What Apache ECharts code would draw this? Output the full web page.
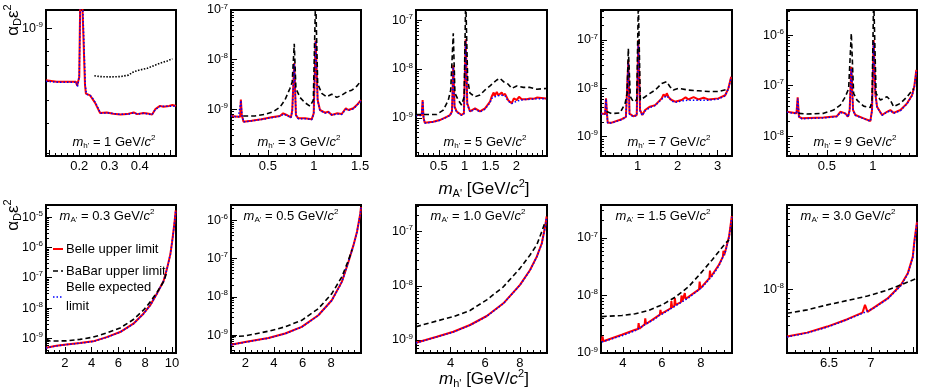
<!DOCTYPE html>
<html lang="en" style="background: #FFFFFF;height: 100%">
<head>
  <meta charset="utf-8" />
  <title>Dark Higgsstrahlung limits</title>
  <script src="https://cdn.jsdelivr.net/npm/echarts@6/dist/echarts.min.js"></script>
</head>
<body style="margin: 0;height: 100%">
<div id="chart" style="width: 926px;height: 392px"></div>
<script>
// panel labels
const mhValues = ['1', '3', '5', '7', '9'];
const maValues = ['0.3', '0.5', '1.0', '1.5', '3.0'];
const xTickLabels = [
  ['0.2', '0.3', '0.4'], ['0.5', '1', '1.5'], ['0.5', '1', '1.5', '2'], ['1', '2', '3'], ['0.5', '1'],
  ['2', '4', '6', '8', '10'], ['2', '4', '6', '8'], ['4', '6', '8'], ['4', '6', '8'], ['6.5', '7']
];
const xRanges = [[0.09, 0.52], [0.1, 1.51], [0.06, 2.59], [0.0875, 3.36], [0.067, 1.48],
  [0.6, 10.3], [1.0, 10.08], [2.0, 9.57], [2.88, 9.6], [6.0, 7.55]];
const yRanges = [[2.93e-10, 1.19e-9], [1.15e-10, 1e-7], [1.65e-10, 1.62e-7], [3.98e-10, 4.18e-7], [4.06e-9, 3.16e-6],
  [3.3e-10, 2.5e-5], [3.4e-10, 2.5e-6], [5.75e-10, 3.1e-7], [1e-9, 3.75e-7], [1.96e-9, 8.6e-8]];

// top row: vs m_A' at fixed m_h'
const belle1 = [[0.09,6.06e-10],[0.125,5.97e-10],[0.189,5.97e-10],[0.193,5.75e-10],[0.2,6.26e-10],[0.205,2.0e-9],[0.211,2.0e-9],[0.219,5.8e-10],[0.222,5.33e-10],[0.236,5.24e-10],[0.252,4.89e-10],[0.269,4.43e-10],[0.291,4.45e-10],[0.313,4.4e-10],[0.336,4.36e-10],[0.358,4.38e-10],[0.38,4.45e-10],[0.391,4.38e-10],[0.413,4.43e-10],[0.43,4.4e-10],[0.441,4.36e-10],[0.452,4.6e-10],[0.467,4.74e-10],[0.478,4.7e-10],[0.497,4.74e-10],[0.508,4.78e-10],[0.52,4.74e-10]];
const expected1 = [[0.09,6.0e-10],[0.13,5.95e-10],[0.19,5.95e-10],[0.194,5.7e-10],[0.2,6.3e-10],[0.206,2.0e-9],[0.212,2.0e-9],[0.22,5.75e-10],[0.224,5.3e-10],[0.24,5.2e-10],[0.255,4.85e-10],[0.27,4.42e-10],[0.3,4.43e-10],[0.33,4.37e-10],[0.36,4.37e-10],[0.38,4.43e-10],[0.395,4.38e-10],[0.415,4.42e-10],[0.44,4.35e-10],[0.452,4.58e-10],[0.468,4.72e-10],[0.49,4.72e-10],[0.52,4.73e-10]];
const babar1 = [[0.25,6.33e-10],[0.269,6.28e-10],[0.302,6.26e-10],[0.336,6.28e-10],[0.363,6.37e-10],[0.38,6.58e-10],[0.402,6.7e-10],[0.425,6.8e-10],[0.447,6.98e-10],[0.469,7.15e-10],[0.491,7.3e-10],[0.508,7.45e-10]];

const belle2 = [[0.1,7.35e-10],[0.177,7.1e-10],[0.199,7.1e-10],[0.207,1.58e-9],[0.217,7.7e-10],[0.236,5.65e-10],[0.323,5.9e-10],[0.431,6.3e-10],[0.54,6.9e-10],[0.63,7.35e-10],[0.666,8.3e-10],[0.703,7.7e-10],[0.75,6.9e-10],[0.764,9.5e-10],[0.786,8.55e-9],[0.804,7.7e-10],[0.829,6.6e-10],[0.902,6.6e-10],[0.975,6.3e-10],[0.997,8.3e-10],[1.018,2.43e-8],[1.04,1.54e-9],[1.065,9.7e-10],[1.12,8.55e-10],[1.155,8.95e-10],[1.192,7.7e-10],[1.247,8.3e-10],[1.301,8.05e-10],[1.345,1.05e-9],[1.373,9.7e-10],[1.427,1.05e-9],[1.464,1.22e-9],[1.51,1.54e-9]];
const expected2 = [[0.1,7.3e-10],[0.18,7.05e-10],[0.2,7.1e-10],[0.208,1.5e-9],[0.218,7.6e-10],[0.237,5.6e-10],[0.33,5.85e-10],[0.43,6.25e-10],[0.54,6.8e-10],[0.63,7.25e-10],[0.67,8.0e-10],[0.705,7.6e-10],[0.75,6.8e-10],[0.765,9.3e-10],[0.786,8.2e-9],[0.805,7.6e-10],[0.83,6.5e-10],[0.9,6.5e-10],[0.975,6.2e-10],[0.998,8.1e-10],[1.018,2.35e-8],[1.04,1.5e-9],[1.065,9.5e-10],[1.12,8.4e-10],[1.16,8.7e-10],[1.2,7.6e-10],[1.25,8.1e-10],[1.3,7.9e-10],[1.345,1.0e-9],[1.375,9.5e-10],[1.43,1.03e-9],[1.465,1.2e-9],[1.51,1.5e-9]];
const babar2 = [[0.232,7.35e-10],[0.359,7.35e-10],[0.467,7.9e-10],[0.558,8.95e-10],[0.63,1.1e-9],[0.685,1.54e-9],[0.739,2.63e-9],[0.764,3.56e-9],[0.786,2.09e-8],[0.804,2.63e-9],[0.848,1.74e-9],[0.902,1.36e-9],[0.957,1.16e-9],[0.993,1.54e-9],[1.018,2e-7],[1.04,3.3e-9],[1.084,2.09e-9],[1.138,1.79e-9],[1.192,2.02e-9],[1.247,1.74e-9],[1.301,1.93e-9],[1.355,2.25e-9],[1.41,2.43e-9],[1.464,2.92e-9],[1.5,3.56e-9]];

const belle3 = [[0.06,1.14e-9],[0.17,1.14e-9],[0.188,2.3e-9],[0.205,1.0e-9],[0.23,7.9e-10],[0.393,8.3e-10],[0.52,9.0e-10],[0.652,1.05e-9],[0.716,1.14e-9],[0.755,1.35e-9],[0.78,1.2e-8],[0.805,1.69e-9],[0.845,1.35e-9],[0.94,1.14e-9],[0.985,1.24e-9],[1.02,4.06e-8],[1.05,1.98e-9],[1.103,1.35e-9],[1.2,1.56e-9],[1.296,1.35e-9],[1.393,1.56e-9],[1.49,2.15e-9],[1.52,2.7e-9],[1.56,3.3e-9],[1.58,2.8e-9],[1.62,3.4e-9],[1.65,2.9e-9],[1.716,3.3e-9],[1.74,2.9e-9],[1.78,3.1e-9],[1.84,2.3e-9],[1.909,1.98e-9],[1.95,2.5e-9],[2.006,2.3e-9],[2.05,2.7e-9],[2.1,2.4e-9],[2.134,2.5e-9],[2.2,2.4e-9],[2.263,2.5e-9],[2.33,2.45e-9],[2.393,2.6e-9],[2.573,2.5e-9]];
const expected3 = [[0.06,1.12e-9],[0.17,1.12e-9],[0.19,2.2e-9],[0.207,1.0e-9],[0.232,7.8e-10],[0.4,8.2e-10],[0.52,8.9e-10],[0.65,1.03e-9],[0.716,1.12e-9],[0.755,1.3e-9],[0.78,1.1e-8],[0.805,1.6e-9],[0.85,1.3e-9],[0.94,1.12e-9],[0.985,1.2e-9],[1.02,3.8e-8],[1.05,1.9e-9],[1.103,1.32e-9],[1.2,1.5e-9],[1.296,1.32e-9],[1.393,1.5e-9],[1.49,2.05e-9],[1.52,2.5e-9],[1.62,2.8e-9],[1.716,2.9e-9],[1.78,2.8e-9],[1.84,2.2e-9],[1.909,1.95e-9],[2.006,2.2e-9],[2.134,2.35e-9],[2.263,2.4e-9],[2.393,2.45e-9],[2.573,2.45e-9]];
const babar3 = [[0.06,1.17e-9],[0.17,1.17e-9],[0.46,1.17e-9],[0.587,1.44e-9],[0.684,2.3e-9],[0.73,3.7e-9],[0.78,5.4e-8],[0.812,3.2e-9],[0.876,2.3e-9],[0.94,1.83e-9],[0.99,2.7e-9],[1.02,3e-7],[1.058,5.96e-9],[1.103,3.2e-9],[1.2,2.7e-9],[1.296,2.95e-9],[1.393,3.72e-9],[1.49,4.5e-9],[1.62,5.96e-9],[1.68,6.46e-9],[1.75,5.5e-9],[1.84,4.9e-9],[1.909,4.0e-9],[2.006,4.5e-9],[2.134,4.2e-9],[2.263,4.2e-9],[2.393,3.85e-9],[2.573,4.0e-9]];

const belle4 = [[0.0875,3.0e-9],[0.19,2.95e-9],[0.213,6.2e-9],[0.24,2.8e-9],[0.255,1.95e-9],[0.355,1.95e-9],[0.605,2.3e-9],[0.71,2.58e-9],[0.74,2.8e-9],[0.77,3.7e-8],[0.8,3.0e-9],[0.895,2.65e-9],[0.98,2.8e-9],[1.02,1.0e-7],[1.063,3.56e-9],[1.12,2.8e-9],[1.19,3.56e-9],[1.31,4.17e-9],[1.44,4.5e-9],[1.605,6.2e-9],[1.65,7.5e-9],[1.7,6.8e-9],[1.73,7.9e-9],[1.78,6.5e-9],[1.85,5.73e-9],[1.94,5.3e-9],[2.1,5.73e-9],[2.2,6.5e-9],[2.27,5.9e-9],[2.4,6.6e-9],[2.52,5.9e-9],[2.65,6.4e-9],[2.77,5.9e-9],[3.02,6.2e-9],[3.19,7.2e-9],[3.27,1.0e-8],[3.34,1.74e-8]];
const expected4 = [[0.0875,2.95e-9],[0.19,2.9e-9],[0.213,6.0e-9],[0.24,2.75e-9],[0.255,1.92e-9],[0.355,1.92e-9],[0.605,2.25e-9],[0.71,2.5e-9],[0.74,2.7e-9],[0.77,3.4e-8],[0.8,2.9e-9],[0.895,2.6e-9],[0.98,2.75e-9],[1.02,9e-8],[1.063,3.4e-9],[1.12,2.75e-9],[1.19,3.4e-9],[1.31,4.0e-9],[1.44,4.4e-9],[1.605,6.0e-9],[1.73,7.0e-9],[1.85,5.5e-9],[1.94,5.1e-9],[2.1,5.5e-9],[2.27,5.7e-9],[2.52,5.7e-9],[2.77,5.7e-9],[3.02,6.0e-9],[3.19,7.0e-9],[3.27,9.8e-9],[3.34,1.7e-8]];
const babar4 = [[0.23,3.3e-9],[0.355,3.0e-9],[0.564,3.1e-9],[0.69,4.9e-9],[0.74,7.87e-9],[0.77,6.7e-8],[0.82,6.7e-9],[0.895,5.3e-9],[0.98,5.73e-9],[1.02,6e-7],[1.07,5.73e-9],[1.19,6.7e-9],[1.31,7.87e-9],[1.44,9.2e-9],[1.605,1.26e-8],[1.73,1.37e-8],[1.81,1.08e-8],[1.895,9.2e-9],[2.02,1.0e-8],[2.27,9.2e-9],[2.52,8.9e-9],[2.77,8.6e-9],[3.02,8.6e-9],[3.23,9.5e-9]];

const belle5 = [[0.067,3.05e-8],[0.17,2.84e-8],[0.183,5.9e-8],[0.197,2.43e-8],[0.23,2.26e-8],[0.465,2.35e-8],[0.61,2.5e-8],[0.647,3.05e-8],[0.701,2.84e-8],[0.73,2.43e-8],[0.748,3.3e-8],[0.766,2.38e-7],[0.785,3.3e-8],[0.81,2.63e-8],[0.9,2.26e-8],[0.973,2.0e-8],[0.991,3.3e-8],[1.009,8.0e-7],[1.027,7.0e-8],[1.046,3.84e-8],[1.1,2.63e-8],[1.154,3.05e-8],[1.19,3.3e-8],[1.226,2.9e-8],[1.3,3.3e-8],[1.372,4.48e-8],[1.426,6.5e-8],[1.45,9.5e-8],[1.473,2.05e-7]];
const expected5 = [[0.067,3.0e-8],[0.17,2.8e-8],[0.184,5.6e-8],[0.198,2.4e-8],[0.23,2.22e-8],[0.465,2.3e-8],[0.61,2.45e-8],[0.647,2.95e-8],[0.701,2.8e-8],[0.73,2.4e-8],[0.748,3.2e-8],[0.766,2.2e-7],[0.785,3.2e-8],[0.81,2.6e-8],[0.9,2.22e-8],[0.973,1.98e-8],[0.991,3.2e-8],[1.009,7.5e-7],[1.027,6.8e-8],[1.046,3.7e-8],[1.1,2.6e-8],[1.154,3.0e-8],[1.19,3.2e-8],[1.226,2.85e-8],[1.3,3.2e-8],[1.372,4.4e-8],[1.426,6.3e-8],[1.45,9.2e-8],[1.473,2.0e-7]];
const babar5 = [[0.193,2.84e-8],[0.284,2.75e-8],[0.465,2.84e-8],[0.574,3.3e-8],[0.647,4.15e-8],[0.701,6.05e-8],[0.737,8.8e-8],[0.766,1.09e-6],[0.791,7.06e-8],[0.828,5.2e-8],[0.9,3.95e-8],[0.973,3.7e-8],[0.991,5.2e-8],[1.009,6e-6],[1.035,7.0e-8],[1.082,5.2e-8],[1.154,6.05e-8],[1.19,5.2e-8],[1.226,3.84e-8],[1.3,4.48e-8],[1.372,6.05e-8],[1.444,8.8e-8]];

// bottom row: vs m_h' at fixed m_A'
const belle6 = [[0.6,4.9e-10],[1.38,5.7e-10],[2.13,6.3e-10],[3.13,7.0e-10],[4.12,8.0e-10],[5.13,1.1e-9],[6.13,1.62e-9],[7.12,3.05e-9],[7.87,6.5e-9],[8.38,1.25e-8],[8.88,3.0e-8],[9.38,8.0e-8],[9.63,2.0e-7],[9.88,6.0e-7],[10.0,1.4e-6],[10.12,3.7e-6],[10.2,7.5e-6],[10.28,1.67e-5]];
const expected6 = [[0.6,4.85e-10],[1.4,5.65e-10],[2.13,6.25e-10],[3.13,6.95e-10],[4.12,7.9e-10],[5.13,1.08e-9],[6.13,1.6e-9],[7.12,3.0e-9],[7.87,6.4e-9],[8.38,1.23e-8],[8.88,2.95e-8],[9.38,7.9e-8],[9.63,1.95e-7],[9.88,5.9e-7],[10.0,1.38e-6],[10.12,3.6e-6],[10.2,7.3e-6],[10.28,1.65e-5]];
const babar6 = [[0.6,9.5e-10],[0.9,8.2e-10],[2.13,8.3e-10],[3.13,9.3e-10],[4.12,1.1e-9],[5.13,1.5e-9],[6.13,2.2e-9],[7.12,4.2e-9],[7.87,8.5e-9],[8.38,1.6e-8],[8.88,3.3e-8],[9.38,7.5e-8],[9.63,1.6e-7]];

const belle7 = [[1.0,5.6e-10],[1.98,6.6e-10],[3.61,8.4e-10],[4.78,1.1e-9],[5.94,1.64e-9],[7.1,3.3e-9],[8.04,8.1e-9],[8.74,2.45e-8],[9.2,8.1e-8],[9.55,2.2e-7],[9.8,5.0e-7],[10.03,1.49e-6],[10.08,2.2e-6]];
const expected7 = [[1.0,5.55e-10],[1.98,6.5e-10],[3.61,8.3e-10],[4.78,1.08e-9],[5.94,1.62e-9],[7.1,3.25e-9],[8.04,8.0e-9],[8.74,2.4e-8],[9.2,8.0e-8],[9.55,2.15e-7],[9.8,4.9e-7],[10.03,1.45e-6],[10.08,2.1e-6]];
const babar7 = [[1.0,9.0e-10],[1.98,9.5e-10],[3.61,1.26e-9],[4.78,1.64e-9],[5.94,2.43e-9],[7.1,4.9e-9],[8.04,1.21e-8],[8.74,3.3e-8],[9.2,9.0e-8],[9.45,1.7e-7]];

const belle8 = [[2.0,8.9e-10],[3.2,1.15e-9],[4.16,1.42e-9],[5.12,1.89e-9],[6.09,2.77e-9],[7.05,4.75e-9],[8.01,1.04e-8],[8.59,1.96e-8],[8.98,3.45e-8],[9.27,6.1e-8],[9.46,1.23e-7],[9.55,1.9e-7]];
const expected8 = [[2.0,8.8e-10],[3.2,1.14e-9],[4.16,1.4e-9],[5.12,1.87e-9],[6.09,2.74e-9],[7.05,4.7e-9],[8.01,1.03e-8],[8.59,1.94e-8],[8.98,3.4e-8],[9.27,6.0e-8],[9.46,1.2e-7],[9.55,1.85e-7]];
const babar8 = [[2.0,1.76e-9],[3.2,2.24e-9],[4.16,2.7e-9],[5.12,3.5e-9],[6.09,5.5e-9],[7.05,9.6e-9],[8.01,2.1e-8],[8.59,3.7e-8],[8.98,5.7e-8],[9.27,1.0e-7],[9.46,1.5e-7]];

const belle9 = [[2.92,1.59e-9],[2.96,1.95e-9],[3.0,1.6e-9],[3.95,2.08e-9],[4.64,2.54e-9],[4.78,2.62e-9],[4.81,3.3e-9],[4.85,2.65e-9],[5.12,3.15e-9],[5.15,4.0e-9],[5.19,3.2e-9],[5.9,4.65e-9],[5.93,5.6e-9],[5.97,4.8e-9],[6.46,6.0e-9],[6.49,8.0e-9],[6.53,6.2e-9],[6.64,6.6e-9],[6.67,9.0e-9],[6.71,6.9e-9],[6.98,7.7e-9],[7.01,1.0e-8],[7.05,7.9e-9],[7.15,8.4e-9],[7.18,1.1e-8],[7.22,8.7e-9],[7.39,9.6e-9],[7.91,1.28e-8],[7.94,1.75e-8],[7.98,1.33e-8],[8.08,1.44e-8],[8.44,2.0e-8],[8.47,2.7e-8],[8.51,2.1e-8],[8.59,2.3e-8],[8.93,3.43e-8],[9.13,4.7e-8],[9.16,6.0e-8],[9.2,5.0e-8],[9.28,6.3e-8],[9.45,1.07e-7],[9.59,2.4e-7]];
const expected9 = [[2.92,1.55e-9],[3.95,2.0e-9],[4.64,2.45e-9],[5.32,3.4e-9],[5.7,4.0e-9],[5.8,4.4e-9],[5.85,4.1e-9],[6.02,4.75e-9],[6.7,6.6e-9],[7.39,9.2e-9],[8.08,1.4e-8],[8.59,2.2e-8],[8.93,3.3e-8],[9.28,6.0e-8],[9.45,1.02e-7],[9.59,2.3e-7]];
const babar9 = [[2.92,4.3e-9],[3.95,4.5e-9],[4.64,4.8e-9],[5.32,5.5e-9],[6.02,6.9e-9],[6.7,9.4e-9],[7.39,1.44e-8],[8.08,2.63e-8],[8.59,4.2e-8],[8.93,5.85e-8],[9.28,8.2e-8],[9.45,9.3e-8]];

const belle10 = [[6.0,2.98e-9],[6.24,3.3e-9],[6.48,3.85e-9],[6.72,4.65e-9],[6.9,5.5e-9],[6.93,6.7e-9],[6.96,5.6e-9],[7.04,6.3e-9],[7.2,7.9e-9],[7.36,1.12e-8],[7.44,1.5e-8],[7.5,2.3e-8],[7.52,3.5e-8],[7.55,5.6e-8]];
const expected10 = [[6.0,2.95e-9],[6.24,3.27e-9],[6.48,3.8e-9],[6.72,4.6e-9],[6.9,5.4e-9],[7.04,6.2e-9],[7.2,7.8e-9],[7.36,1.1e-8],[7.44,1.48e-8],[7.5,2.25e-8],[7.52,3.4e-8],[7.55,5.5e-8]];
const babar10 = [[6.0,5.4e-9],[6.24,5.9e-9],[6.48,6.7e-9],[6.72,7.5e-9],[6.96,8.4e-9],[7.2,9.8e-9],[7.36,1.12e-8],[7.55,1.32e-8]];

const belleAll = [belle1, belle2, belle3, belle4, belle5, belle6, belle7, belle8, belle9, belle10];
const expectedAll = [expected1, expected2, expected3, expected4, expected5, expected6, expected7, expected8, expected9, expected10];
const babarAll = [babar1, babar2, babar3, babar4, babar5, babar6, babar7, babar8, babar9, babar10];

const FONT = '"Liberation Sans", Arial, Helvetica, sans-serif';
const lefts = [46, 231, 416, 601, 787];
const widths = [130, 130, 131, 131, 130];
const xSplit = [4, 3, 5, 3, 3, 5, 5, 4, 3, 3];

function richSet(size) {
  const s = Math.round(size * 0.62);
  const p = Math.round(size * 0.6);
  return {
    n: { fontSize: size, fontFamily: FONT, color: '#000' },
    i: { fontSize: size, fontFamily: FONT, fontStyle: 'italic', color: '#000' },
    sb: { fontSize: s, fontFamily: FONT, color: '#000', padding: [p, 0, 0, 0] },
    sp: { fontSize: s, fontFamily: FONT, color: '#000', padding: [0, 0, p, 0] }
  };
}

const grids = [], xAxes = [], yAxes = [], series = [];
for (let k = 0; k < 10; k++) {
  const row = k < 5 ? 0 : 1;
  const col = k % 5;
  grids.push({
    left: lefts[col], width: widths[col],
    top: row === 0 ? 10 : 205, height: row === 0 ? 146 : 148,
    show: true, borderColor: '#000', borderWidth: 2, backgroundColor: 'transparent'
  });
  const labels = xTickLabels[k];
  xAxes.push({
    type: 'value', gridIndex: k, min: xRanges[k][0], max: xRanges[k][1], splitNumber: xSplit[k],
    axisLine: { show: true, onZero: false, lineStyle: { color: '#000', width: 2 } },
    axisTick: { show: true, inside: true, length: 6, lineStyle: { color: '#000' } },
    minorTick: { show: true, splitNumber: 5, length: 3, lineStyle: { color: '#000' } },
    splitLine: { show: false },
    axisLabel: {
      margin: 4, color: '#000', fontSize: 13, fontFamily: FONT, showMinLabel: true, showMaxLabel: true,
      formatter: v => { const s = String(parseFloat(v.toFixed(4))); return labels.indexOf(s) >= 0 ? s : ''; }
    }
  });
  yAxes.push({
    type: 'log', logBase: 10, gridIndex: k, min: yRanges[k][0], max: yRanges[k][1],
    axisLine: { show: true, onZero: false, lineStyle: { color: '#000', width: 2 } },
    axisTick: { show: true, inside: true, length: 6, lineStyle: { color: '#000' } },
    minorTick: { show: true, splitNumber: 9, length: 3, lineStyle: { color: '#000' } },
    splitLine: { show: false },
    axisLabel: {
      margin: 3, color: '#000',
      formatter: v => {
        const e = Math.log10(v), r = Math.round(e);
        return Math.abs(e - r) < 1e-6 ? '{a|10}{b|' + r + '}' : '';
      },
      rich: {
        a: { fontSize: 12.5, fontFamily: FONT, color: '#000' },
        b: { fontSize: 8, fontFamily: FONT, color: '#000', padding: [0, 0, 7, 0] }
      }
    }
  });
  const base = { type: 'line', xAxisIndex: k, yAxisIndex: k, symbol: 'none', showSymbol: false, silent: true, clip: true };
  series.push(Object.assign({}, base, { name: 'Belle upper limit', data: belleAll[k], z: 2,
    lineStyle: { color: '#ff0000', width: 2 } }));
  series.push(Object.assign({}, base, { name: 'Belle expected limit', data: expectedAll[k], z: 3,
    lineStyle: { color: '#0000ff', width: 1.5, type: [1.5, 2] } }));
  series.push(Object.assign({}, base, { name: 'BaBar upper limit', data: babarAll[k], z: 4,
    lineStyle: { color: '#000', width: 1.6, type: k === 0 ? [1.5, 1.5] : [5, 3] } }));
}

const graphic = [];
const topX = [114, 299, 485, 669, 855];
const botX = [107, 291, 478, 663, 848];
function txt(x, y, text, size, extra) {
  return Object.assign({
    type: 'text', x: x, y: y, silent: true,
    style: { text: text, rich: richSet(size), font: size + 'px ' + FONT, align: 'center', verticalAlign: 'middle',
      textAlign: 'center', textVerticalAlign: 'middle' }
  }, extra || {});
}
for (let c = 0; c < 5; c++) {
  graphic.push(txt(topX[c], 142, "{i|m}{sb|h'}{n| = " + mhValues[c] + ' GeV/}{i|c}{sp|2}', 13));
  graphic.push(txt(botX[c], 216, "{i|m}{sb|A'}{n| = " + maValues[c] + ' GeV/}{i|c}{sp|2}', 13));
}
graphic.push(txt(484, 189, "{i|m}{sb|A'}{n| [GeV/}{i|c}{sp|2}{n|]}", 17));
graphic.push(txt(484, 379, "{i|m}{sb|h'}{n| [GeV/}{i|c}{sp|2}{n|]}", 17));
graphic.push(txt(13, 20, '{n|α}{sb|D}{n|ε}{sp|2}', 17, { rotation: Math.PI / 2 }));
graphic.push(txt(13, 215, '{n|α}{sb|D}{n|ε}{sp|2}', 17, { rotation: Math.PI / 2 }));

// legend (first bottom panel)
const legendItems = [
  { y: 249, color: '#ff0000', dash: null, width: 2, lines: ['Belle upper limit'] },
  { y: 271, color: '#000', dash: [5, 3], width: 1.6, lines: ['BaBar upper limit'] },
  { y: 297, color: '#0000ff', dash: [1.5, 2], width: 1.5, lines: ['Belle expected', 'limit'] }
];
legendItems.forEach(it => {
  graphic.push({ type: 'line', silent: true, shape: { x1: 53, y1: it.y, x2: 63, y2: it.y },
    style: { stroke: it.color, lineWidth: it.width, lineDash: it.dash } });
  const n = it.lines.length;
  it.lines.forEach((t, j) => {
    graphic.push({ type: 'text', silent: true, x: 66, y: it.y + (j - (n - 1) / 2) * 19,
      style: { text: t, font: '13px ' + FONT, fill: '#000', align: 'left', verticalAlign: 'middle',
        textAlign: 'left', textVerticalAlign: 'middle' } });
  });
});

const chart = echarts.init(document.getElementById('chart'), null, { renderer: 'canvas' });
chart.setOption({
  animation: false,
  backgroundColor: '#ffffff',
  grid: grids, xAxis: xAxes, yAxis: yAxes, series: series, graphic: graphic
});
</script>
</body>
</html>
